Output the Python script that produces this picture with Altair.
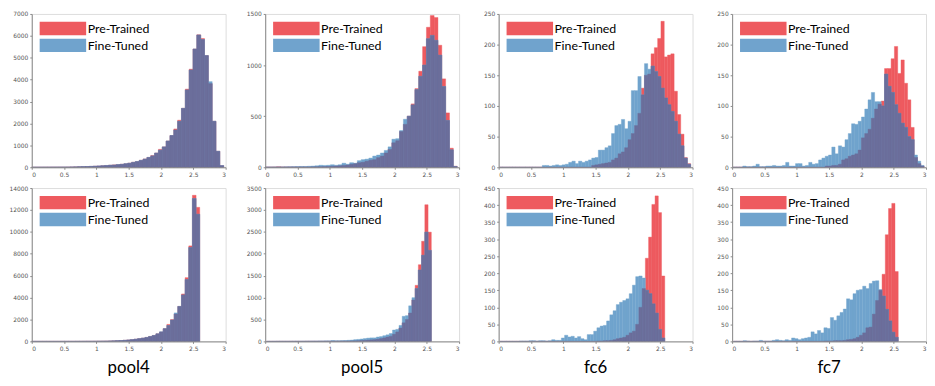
import altair as alt
import pandas as pd

# ---------------- data (histogram counts) ----------------
# top row, pool layers: 50 bins of width 0.0594 starting at 0
A_pre = [5,5,5,6,6,8,8,10,10,12, 15,20,25,30,35,40,50,60,70,80,
         95,110,120,140,160,190,230,260,320,380, 450,540,650,820,930,1200,1450,1750,2150,2690,
         3570,4480,5400,6050,5880,5100,3820,2100,730,75]
A_fine = [4,5,6,6,7,8,9,10,11,12, 15,18,25,32,35,42,50,62,70,85,
          95,105,125,135,165,185,225,265,315,375, 450,520,650,780,930,1200,1450,1700,2100,2690,
          3530,4440,5400,6040,5830,5100,3910,2100,730,80]
B_pre = [2,2,3,5,3,3,3,3,3,3, 3,3,4,5,6,7,8,10,12,15,
         18,22,30,35,45,50,60,70,75,95, 110,140,175,240,260,350,420,500,620,770,
         940,1180,1370,1484,1465,1194,865,532,187,10]
B_fine = [2,2,2,3,3,4,5,6,7,8, 8,10,12,15,20,18,20,25,20,25,
          40,30,45,40,65,75,80,90,110,120, 140,165,200,275,280,360,470,500,610,760,
          890,1000,1258,1290,1242,1097,790,458,171,8]
# top row, fc layers: 58 bins of width 0.051 starting at 0.012
C_pre = [0]*28 + [3,4,5,6,7,8,12,15,22,25, 32,45,55,68,88,129,150,152,185,195,
                  210,238,180,183,185,124,86,54,16,6]
C_fine = [0]*13 + [3,3,2,3,4,3,4,5,8,10, 6,10,8,10,12,15,16,28,28,32,
                   35,55,68,70,78,63,75,125,125,148, 118,169,160,165,156,148,129,113,102,91,
                   75,54,35,15,5]
D_pre = [0]*28 + [2,2,3,3,5,12,14,18,20,22, 28,48,55,62,80,95,103,108,161,161,
                  177,197,153,175,137,110,65,16,6,2]
D_fine = [0,0,0,2,1,1,2,5,1,1, 2,2,3,2,2,3,8,2,2,6, 6,2,3,8,5,6,12,15,18,20,
          33,22,35,33,45,55,71,70,75,82, 95,110,122,107,107,100,152,132,122,102,
          88,72,65,50,45,20,10,3]
# bottom row, pool4: 46 bins of width 0.0565 starting at 0
E_pre = [2,2,2,3,3,3,4,4,5,5, 6,7,8,9,10,12,14,16,20,25,
         30,40,50,65,80,100,130,160,200,250, 300,360,450,540,690,860,1160,1550,2000,2500,
         3190,4330,5820,8720,13340,12240]
E_fine = [2,2,2,3,3,3,4,4,5,5, 6,7,8,9,10,12,14,16,20,25,
          30,40,50,65,80,100,130,160,200,250, 300,360,450,540,690,880,1160,1450,1950,2600,
          3190,4240,5640,8570,13040,11610]
# bottom row, others: 51 bins of width 0.05 starting at 0.02
F_pre = [0,0,0,1,1,1,1,1,1,1, 1,1,2,2,2,2,2,2,2,2, 3,3,4,5,6,8,10,12,15,20,
         25,30,35,40,50,65,80,100,120,164, 216,305,424,500,648,945,1280,1750,2286,3120, 2494]
F_fine = [1,1,2,2,3,3,3,4,4,5, 5,6,6,7,8,8,10,10,12,12, 20,15,15,18,20,25,30,40,45,55,
          65,75,80,80,100,110,130,150,180,260, 275,365,573,588,812,998,1206,1630,1966,2494, 2077]
G_pre = [0]*30 + [1,1,2,2,3,5,8,10,12,18, 25,30,50,100,155,244,306,402,427,378, 192]
G_fine = [0,0,0,0,0,0,1,1,1,2, 2,1,2,2,1,2,5,3,3,10, 18,13,15,10,14,8,5,20,20,30,
          40,45,47,60,78,90,108,115,120,125, 140,165,190,192,186,150,140,110,83,35, 10]
H_pre = [0]*28 + [1,1,1,2,2,2,3,5,6,8, 12,18,25,40,42,80,120,150,197,313, 390,405,205]
H_fine = [0,0,0,2,1,0,1,1,3,1, 1,1,3,5,3,2,5,3,10,8, 5,8,10,12,28,22,32,25,40,38,
          70,62,75,85,95,125,122,140,150,152, 162,155,170,177,178,152,133,94,60,27, 12]

X_TICKS = [0, 0.5, 1, 1.5, 2, 2.5, 3]
TITLES = ["pool4", "pool5", "fc6", "fc7"]
LEGEND_LABELS = ["Pre-Trained", "Fine-Tuned"]

PANELS = [
    # (start, width, pre, fine, ymax, ystep, title)
    (0.0, 0.0594, A_pre, A_fine, 7000, 1000, None),
    (0.0, 0.0594, B_pre, B_fine, 1500, 500, None),
    (0.012, 0.051, C_pre, C_fine, 250, 50, None),
    (0.012, 0.051, D_pre, D_fine, 250, 50, None),
    (0.0, 0.0565, E_pre, E_fine, 14000, 2000, TITLES[0]),
    (0.02, 0.05, F_pre, F_fine, 3500, 500, TITLES[1]),
    (0.02, 0.05, G_pre, G_fine, 450, 50, TITLES[2]),
    (0.02, 0.05, H_pre, H_fine, 450, 50, TITLES[3]),
]

RED = "#EE5A5F"
BLUE = "#70A3CD"
PURPLE = "#6B6E9B"
W, H = 196, 155
AXIS_GRAY = "#8a8a8a"


def panel(start, width, pre, fine, ymax, ystep, title):
    n = len(pre)
    df = pd.DataFrame({
        "x0": [round(start + i * width, 5) for i in range(n)],
        "x1": [round(start + (i + 1) * width, 5) for i in range(n)],
        "pre": pre,
        "fine": fine,
    })
    base = alt.Chart(df)
    xscale = alt.Scale(domain=[0, 3], nice=False, zero=False)
    yscale = alt.Scale(domain=[0, ymax], nice=False)
    common = dict(title=None, grid=False, labelFont="DejaVu Sans", labelFontSize=6,
                  labelColor="#555", tickSize=2, tickColor=AXIS_GRAY,
                  domainColor=AXIS_GRAY, labelPadding=2, zindex=1,
                  labelOverlap=False)
    xaxis = alt.Axis(values=X_TICKS, format="~g", **common)
    yaxis = alt.Axis(values=list(range(0, ymax + 1, ystep)), format="d", **common)

    def bars(field, color):
        return base.mark_rect(color=color, stroke=color, strokeWidth=0.4).encode(
            x=alt.X("x0:Q", scale=xscale, axis=xaxis),
            x2="x1:Q",
            y=alt.Y(f"{field}:Q", scale=yscale, axis=yaxis),
            y2=alt.datum(0),
        )

    red = bars("pre", RED)
    blue = bars("fine", BLUE)
    both = bars("both", PURPLE).transform_calculate(
        both="min(datum.pre, datum.fine)")

    one = alt.Chart(alt.Data(values=[{"k": 1}]))
    leg_red = one.mark_rect(color=RED).encode(
        x=alt.value(8), x2=alt.value(55), y=alt.value(8), y2=alt.value(21.5))
    leg_blue = one.mark_rect(color=BLUE).encode(
        x=alt.value(8), x2=alt.value(55), y=alt.value(25), y2=alt.value(38.5))
    txt_style = dict(align="left", baseline="middle", font="Lato", fontSize=12.5,
                     color="black")
    leg_t1 = one.mark_text(**txt_style).encode(
        x=alt.value(56.5), y=alt.value(15), text=alt.value(LEGEND_LABELS[0]))
    leg_t2 = one.mark_text(**txt_style).encode(
        x=alt.value(56.5), y=alt.value(32), text=alt.value(LEGEND_LABELS[1]))

    props = dict(width=W, height=H)
    if title:
        props["title"] = alt.TitleParams(text=title, orient="bottom", anchor="middle",
                                         font="Lato", fontSize=17, fontWeight="normal",
                                         color="black", offset=9)
    return alt.layer(red, blue, both, leg_red, leg_blue, leg_t1, leg_t2).properties(**props)


charts = [panel(*p) for p in PANELS]

chart = alt.concat(
    *charts, columns=4, spacing=alt.RowColnumber(row=21, column=40), bounds="flush"
).properties(
    padding={"left": 0, "top": 0, "right": 0, "bottom": 0}
).configure_view(
    stroke=AXIS_GRAY, strokeWidth=1
).configure(background="white")

chart.save("out.html", embed_options={"renderer": "svg", "actions": False})
